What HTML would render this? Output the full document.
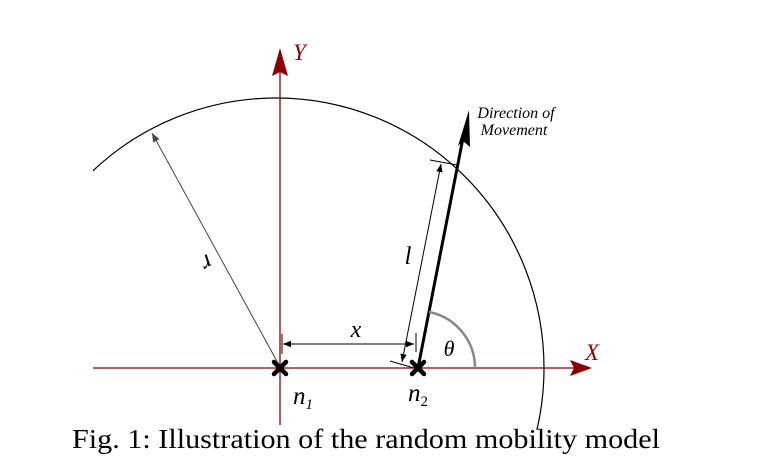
<!DOCTYPE html>
<html><head><style>
html,body{margin:0;padding:0;background:#fff;width:771px;height:467px;overflow:hidden;}
svg{display:block;}
</style></head><body>
<svg width="771" height="467" viewBox="0 0 771 467" xmlns="http://www.w3.org/2000/svg">
<defs>
<marker id="ah" viewBox="0 0 10 10" refX="10" refY="5" markerWidth="8" markerHeight="8" orient="auto-start-reverse" markerUnits="userSpaceOnUse"><path d="M0,1 L10,5 L0,9 z" fill="#000"/></marker>
<marker id="ahg" viewBox="0 0 10 10" refX="10" refY="5" markerWidth="9" markerHeight="9" orient="auto" markerUnits="userSpaceOnUse"><path d="M0,1 L10,5 L0,9 z" fill="#444"/></marker>
<clipPath id="cp"><rect x="93" y="0" width="470" height="430"/></clipPath>
</defs>
<ellipse cx="276" cy="368" rx="268" ry="270" fill="none" stroke="#000" stroke-width="1.2" clip-path="url(#cp)"/>
<line x1="93" y1="368" x2="578" y2="368" stroke="#8b0000" stroke-width="1.3"/>
<path d="M592,368 L570,360 L574,368 L570,376 z" fill="#8b0000"/>
<line x1="280" y1="425" x2="280" y2="62" stroke="#8b0000" stroke-width="1.3"/>
<path d="M280,48 L272,76 L280,72 L288,76 z" fill="#8b0000"/>
<text x="293" y="60" font-family="Liberation Serif,serif" font-style="italic" font-size="23" fill="#8b0000">Y</text>
<text x="585" y="360" font-family="Liberation Serif,serif" font-style="italic" font-size="23" fill="#8b0000">X</text>
<line x1="279" y1="365" x2="152" y2="133" stroke="#444" stroke-width="1" marker-end="url(#ahg)"/>
<text x="0" y="0" transform="translate(203,256) rotate(152)" font-family="Liberation Serif,serif" font-style="italic" font-size="26" text-anchor="middle">r</text>
<line x1="283" y1="344" x2="414" y2="344" stroke="#000" stroke-width="1" marker-start="url(#ah)" marker-end="url(#ah)"/>
<line x1="282" y1="334" x2="282" y2="354" stroke="#000" stroke-width="1"/>
<line x1="416" y1="333" x2="416" y2="352" stroke="#000" stroke-width="1"/>
<text x="356" y="337" font-family="Liberation Serif,serif" font-style="italic" font-size="24" text-anchor="middle">x</text>
<line x1="402" y1="362" x2="441" y2="164" stroke="#000" stroke-width="1" marker-start="url(#ah)" marker-end="url(#ah)"/>
<line x1="390" y1="361" x2="414" y2="368" stroke="#000" stroke-width="1"/>
<line x1="430" y1="160" x2="457" y2="165" stroke="#000" stroke-width="1"/>
<text x="408" y="264" font-family="Liberation Serif,serif" font-style="italic" font-size="25" text-anchor="middle">l</text>
<line x1="418" y1="368" x2="463" y2="138" stroke="#000" stroke-width="3"/>
<path d="M469,110 L458,146 L463,141 L470,147 z" fill="#000"/>
<text x="516" y="118" font-family="Liberation Serif,serif" font-style="italic" font-size="16" text-anchor="middle">Direction of</text>
<text x="514" y="135" font-family="Liberation Serif,serif" font-style="italic" font-size="16" text-anchor="middle">Movement</text>
<path d="M475,368 A57,57 0 0 0 429,312" fill="none" stroke="#888" stroke-width="2.5"/>
<text x="449" y="356" font-family="Liberation Serif,serif" font-style="italic" font-size="22" text-anchor="middle">θ</text>
<g stroke="#000" stroke-width="4.5" stroke-linecap="round">
<line x1="274" y1="362" x2="286" y2="374"/><line x1="286" y1="362" x2="274" y2="374"/>
<line x1="412" y1="362" x2="424" y2="374"/><line x1="424" y1="362" x2="412" y2="374"/>
</g>
<text x="293" y="404" font-family="Liberation Serif,serif" font-style="italic" font-size="25">n<tspan font-size="15" dy="5">1</tspan></text>
<text x="408" y="401" font-family="Liberation Serif,serif" font-style="italic" font-size="25">n<tspan font-size="15" dy="5" font-style="normal">2</tspan></text>
<text x="72" y="448" font-family="Liberation Serif,serif" font-size="27" textLength="588" lengthAdjust="spacingAndGlyphs">Fig. 1: Illustration of the random mobility model</text>
</svg>
</body></html>
